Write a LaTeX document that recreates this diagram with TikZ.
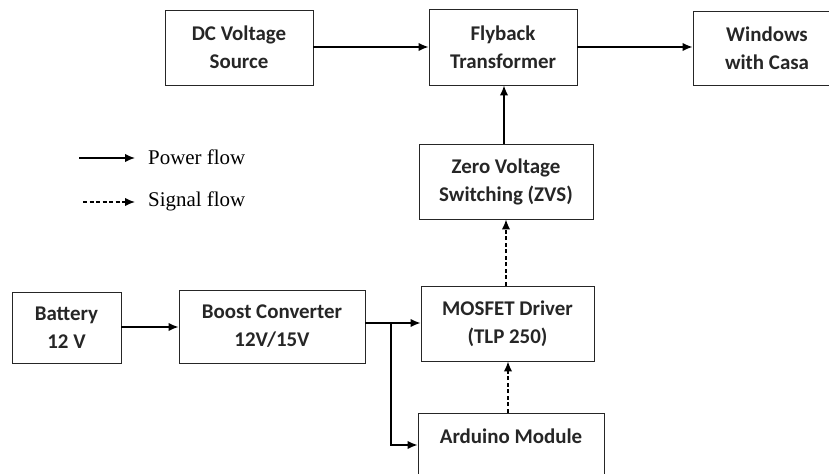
\documentclass[tikz,border=0pt]{standalone}
\usepackage{fontspec}
\setmainfont{Liberation Serif}
\newfontfamily\boxfont{Carlito}
\usetikzlibrary{arrows.meta}
\begin{document}
\begin{tikzpicture}[x=1bp,y=-1bp,
  blk/.style={draw=black!85, line width=0.9bp, rectangle, align=center, inner sep=0pt,
    font=\boxfont\bfseries\fontsize{21}{28}\selectfont, text=black!85},
  pw/.style={line width=1.5bp, -{Latex[length=10bp,width=8.5bp]}},
  sg/.style={line width=1.5bp, dash pattern=on 4bp off 2.5bp, -{Latex[length=10bp,width=8.5bp]}},
  leg/.style={anchor=west, font=\fontsize{21}{25}\selectfont, inner sep=0pt}]
\useasboundingbox (0,0) rectangle (829,474);
\path[clip] (0,0) rectangle (829,474);
\node[blk, minimum width=148bp, minimum height=75bp] (dc) at (239,47.5) {DC Voltage\\Source};
\node[blk, minimum width=148bp, minimum height=76bp] (fly) at (503,47) {Flyback\\Transformer};
\node[blk, minimum width=148bp, minimum height=74bp] (win) at (767,48) {Windows\\with Casa};
\node[blk, minimum width=174bp, minimum height=75bp] (zvs) at (506,181.5) {Zero Voltage\\Switching (ZVS)};
\node[blk, minimum width=173bp, minimum height=75bp] (mos) at (507.5,323.5) {MOSFET Driver\\(TLP 250)};
\node[blk, minimum width=186bp, minimum height=75bp] (ard) at (511,450.5) {Arduino Module\\\mbox{}};
\node[blk, minimum width=109bp, minimum height=71bp] (bat) at (66.5,327.5) {Battery\\12 V};
\node[blk, minimum width=186bp, minimum height=73bp] (bst) at (272,326.5) {Boost Converter\\12V/15V};

\draw[pw] (dc.east |- 0,47) -- (fly.west |- 0,47);
\draw[pw] (fly.east |- 0,47) -- (win.west |- 0,47);
\draw[pw] (zvs.north -| 504,0) -- (fly.south -| 504,0);
\draw[sg] (mos.north -| 506,0) -- (zvs.south -| 506,0);
\draw[sg] (ard.north -| 508,0) -- (mos.south -| 508,0);
\draw[pw] (bat.east |- 0,327) -- (bst.west |- 0,327);
\coordinate (br) at (391,323);
\draw[pw] (bst.east |- br) -- (mos.west |- br);
\draw[pw] (br) -- (391,445) -- (ard.west |- 0,445);

\coordinate (l1a) at (79,158); \coordinate (l1b) at (135,158);
\coordinate (l2a) at (83,202); \coordinate (l2b) at (135,202);
\draw[pw] (l1a) -- (l1b);
\draw[sg] (l2a) -- (l2b);
\node[leg] (t1) at (148,157) {Power flow};
\node[leg] (t2) at (148,201) {Signal flow};
\end{tikzpicture}
\end{document}
